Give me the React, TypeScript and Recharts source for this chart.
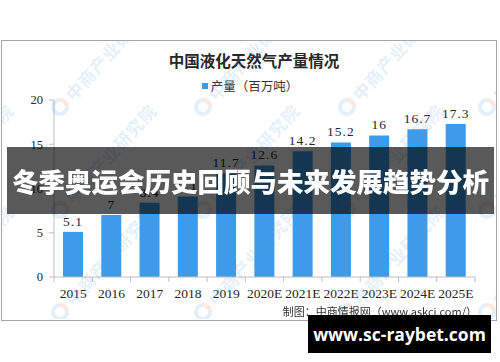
import React from 'react';
import { BarChart, Bar, XAxis, YAxis, LabelList, Legend } from 'recharts';

const years = ['2015', '2016', '2017', '2018', '2019', '2020E', '2021E', '2022E', '2023E', '2024E', '2025E'];
const output = [5.1, 7, 8.4, 9.1, 11.7, 12.6, 14.2, 15.2, 16, 16.7, 17.3];
const yTicks = [0, 5, 10, 15, 20];

const title = '中国液化天然气产量情况';
const seriesName = '产量（百万吨）';
const sourceText = '制图：中商情报网（www.askci.com/）';
const bannerText = '冬季奥运会历史回顾与未来发展趋势分析';
const siteText = 'www.sc-raybet.com';
const watermarkText = '中商产业研究院';

const data = years.map((y, i) => ({ year: y, value: output[i] }));

const BAR_COLOR = '#3d9be9';
const AXIS_COLOR = '#bfbfbf';
const NUM_FONT = '"Liberation Serif", serif';
const CJK_FONT = '"Noto Sans CJK SC", "Noto Sans", sans-serif';

const XTick = (props: any) => {
  const { x, y, payload, index, visibleTicksCount } = props;
  const off = payload && typeof payload.offset === 'number' && payload.offset > 0 ? payload.offset : 19.14;
  const axisY = y - 11;
  const last = index === (visibleTicksCount ?? years.length) - 1;
  return (
    <g>
      <line x1={x - off} x2={x - off} y1={axisY} y2={axisY + 5} stroke={AXIS_COLOR} />
      {last && <line x1={x + off} x2={x + off} y1={axisY} y2={axisY + 5} stroke={AXIS_COLOR} />}
      <text x={x} y={y} dy="0.71em" textAnchor="middle" fontFamily={NUM_FONT} fontSize={13.5} fill="#262626">
        {payload.value}
      </text>
    </g>
  );
};

const LegendContent = () => (
  <div style={{ display: 'flex', justifyContent: 'center', alignItems: 'center', width: 500, height: 18 }}>
    <span style={{ display: 'inline-block', width: 6, height: 6, background: BAR_COLOR, marginRight: 3 }} />
    <span style={{ fontFamily: CJK_FONT, fontSize: 12.5, color: '#333', lineHeight: '18px' }}>{seriesName}</span>
  </div>
);

const wmXs = [-83, 60, 203, 347, 487];
const wmYs = [107, 210, 312];

const Watermarks = () => (
  <svg width={500} height={362} style={{ position: 'absolute', left: 0, top: 0, pointerEvents: 'none' }}>
    <defs>
      <clipPath id="frameClip">
        <rect x={2} y={41} width={494} height={278} />
      </clipPath>
    </defs>
    <g clipPath="url(#frameClip)" opacity={0.17}>
      {wmYs.map((wy) =>
        wmXs.map((wx) => (
          <g key={`${wx}-${wy}`} transform={`translate(${wx},${wy}) rotate(-48)`}>
            <circle cx={0} cy={0} r={7} fill="none" stroke="#5aa5e3" strokeWidth={4} />
            <path d="M 5 -5 A 7 7 0 0 1 5 5" fill="none" stroke="#f07a45" strokeWidth={4} />
            <text x={13} y={7} fontFamily={CJK_FONT} fontWeight={700} fontSize={17} fill="#5aa5e3" letterSpacing={1}>
              {watermarkText}
            </text>
          </g>
        ))
      )}
    </g>
  </svg>
);

export default function App() {
  return (
    <div style={{ position: 'absolute', left: 0, top: 0, width: 500, height: 362, background: '#fff', overflow: 'hidden' }}>
      <div
        style={{
          position: 'absolute',
          left: 1,
          top: 40,
          width: 496,
          height: 281,
          border: '1px solid #a6a6a6',
          boxSizing: 'border-box',
          background: '#fff',
        }}
      />
      <div
        style={{
          position: 'absolute',
          left: 4,
          top: 50,
          width: 500,
          textAlign: 'center',
          fontFamily: CJK_FONT,
          fontWeight: 700,
          fontSize: 15.5,
          lineHeight: '20px',
          color: '#262626',
        }}
      >
        {title}
      </div>
      <div style={{ position: 'absolute', left: 0, top: 0 }}>
        <BarChart
          width={500}
          height={362}
          data={data}
          margin={{ top: 100, right: 25, bottom: 55, left: 10 }}
        >
          <XAxis
            dataKey="year"
            height={30}
            axisLine={{ stroke: AXIS_COLOR }}
            tickLine={false}
            tickSize={5}
            tickMargin={6}
            interval={0}
            tick={<XTick />}
          />
          <YAxis
            width={44}
            domain={[0, 20]}
            ticks={yTicks}
            interval={0}
            axisLine={{ stroke: AXIS_COLOR }}
            tickLine={{ stroke: AXIS_COLOR }}
            tickSize={5}
            tickMargin={6}
            tick={{ fontFamily: NUM_FONT, fontSize: 12.5, fill: '#262626' }}
          />
          <Legend
            layout="horizontal"
            verticalAlign="middle"
            align="center"
            content={<LegendContent />}
            wrapperStyle={{ top: 77, left: 0, width: 500, height: 18 }}
          />
          <Bar dataKey="value" name={seriesName} fill={BAR_COLOR} barSize={20} isAnimationActive={false}>
            <LabelList
              dataKey="value"
              position="top"
              offset={6}
              style={{ fontFamily: NUM_FONT, fontSize: 13.5, fill: '#262626', letterSpacing: 1 }}
            />
          </Bar>
        </BarChart>
      </div>
      <Watermarks />
      <div
        style={{
          position: 'absolute',
          right: 23,
          top: 303,
          fontFamily: CJK_FONT,
          fontSize: 11,
          lineHeight: '16px',
          color: '#333',
          whiteSpace: 'nowrap',
        }}
      >
        {sourceText}
      </div>
      <div
        style={{
          position: 'absolute',
          left: 7,
          top: 147,
          width: 487,
          height: 67,
          background: 'rgba(0,0,0,0.65)',
          display: 'flex',
          alignItems: 'center',
          justifyContent: 'center',
          fontFamily: CJK_FONT,
          fontWeight: 900,
          fontSize: 26.5,
          color: '#fff',
          whiteSpace: 'nowrap',
        }}
      >
        {bannerText}
      </div>
      <div
        style={{
          position: 'absolute',
          left: 308,
          top: 315,
          width: 183,
          height: 38,
          background: '#000',
          display: 'flex',
          alignItems: 'center',
          justifyContent: 'center',
          fontFamily: '"Open Sans", "Noto Sans", sans-serif',
          fontWeight: 700,
          fontSize: 17.5,
          color: '#fff',
          whiteSpace: 'nowrap',
        }}
      >
        {siteText}
      </div>
    </div>
  );
}
